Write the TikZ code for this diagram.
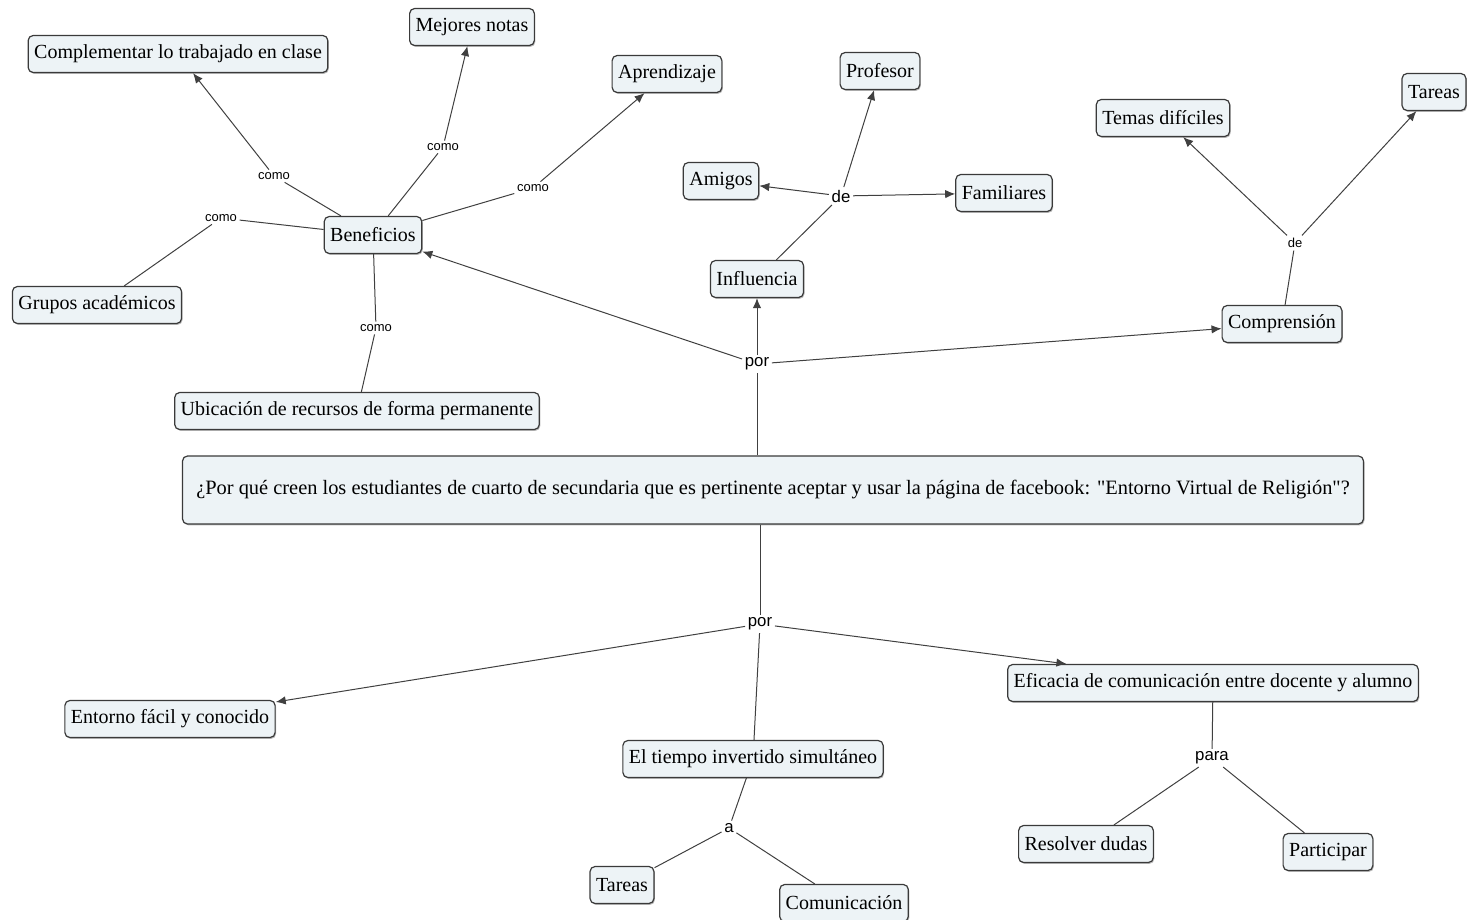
\documentclass[tikz,border=0pt]{standalone}
\usepackage{fontspec}
\setmainfont{Liberation Serif}
\setsansfont{Liberation Sans}
\newcommand{\sansall}{\sffamily}
\usepackage{xcolor}
\usepackage{tikz}
\usetikzlibrary{arrows.meta,shadows}
\definecolor{cfill}{HTML}{EDF3F6}
\definecolor{cline}{HTML}{3A3A3A}
\definecolor{wire}{HTML}{404040}
\tikzset{
  cpt/.style={draw=cline, line width=0.6pt, rounded corners=2.5pt, fill=cfill,
              minimum height=18.5pt, inner xsep=3pt, inner ysep=2pt,
              font=\fontsize{10}{12}\selectfont,
              drop shadow={shadow xshift=0.5pt, shadow yshift=-0.7pt,
                           fill=black!45, opacity=0.6}},
  lnk/.style={inner sep=1.2pt, font=\sansall\fontsize{6.5}{8}\selectfont},
  lnkb/.style={lnk, font=\sansall\fontsize{8.4}{10}\selectfont},
  ln/.style={line width=0.5pt, draw=wire},
  ar/.style={ln, -{Latex[length=5pt,width=4.2pt]}},
}

\begin{document}
\begin{tikzpicture}[x=0.5pt, y=-0.5pt]
  \useasboundingbox (0,0) rectangle (1467,920);
  % pregunta central
  \node[cpt, minimum width=590.5pt, minimum height=34pt,
        font=\fontsize{10.2}{12}\selectfont] (q) at (773,490)
       {¿Por qué creen los estudiantes de cuarto de secundaria que es pertinente aceptar y usar la página de facebook: \textquotedbl Entorno Virtual de Religión\textquotedbl ?};

  % conceptos de arriba
  \node[cpt] (ben)   at (373,235)  {Beneficios};
  \node[cpt] (inf)   at (757,279)  {Influencia};
  \node[cpt] (comp)  at (1282,324) {Comprensión};
  \node[cpt] (compl) at (178,54)   {Complementar lo trabajado en clase};
  \node[cpt] (mej)   at (472,27)   {Mejores notas};
  \node[cpt] (apr)   at (667,74)   {Aprendizaje};
  \node[cpt] (grp)   at (97,305)   {Grupos académicos};
  \node[cpt] (ubi)   at (357,411)  {Ubicación de recursos de forma permanente};
  \node[cpt] (prof)  at (880,71)   {Profesor};
  \node[cpt] (ami)   at (721,181)  {Amigos};
  \node[cpt] (fam)   at (1004,193) {Familiares};
  \node[cpt] (tem)   at (1163,118) {Temas difíciles};
  \node[cpt] (tar1)  at (1434,92)  {Tareas};

  % conceptos de abajo
  \node[cpt] (ent)  at (170,719)  {Entorno fácil y conocido};
  \node[cpt] (tie)  at (753,759)  {El tiempo invertido simultáneo};
  \node[cpt] (efi)  at (1213,683) {Eficacia de comunicación entre docente y alumno};
  \node[cpt] (res)  at (1086,844) {Resolver dudas};
  \node[cpt] (par)  at (1328,852) {Participar};
  \node[cpt] (tar2) at (622,885)  {Tareas};
  \node[cpt] (com)  at (844,903)  {Comunicación};

  % frases de enlace
  \node[lnkb] (por1)  at (757,364)  {por};
  \node[lnkb] (por2)  at (760,624)  {por};
  \node[lnk]  (como1) at (274,176)  {como};
  \node[lnk]  (como2) at (443,147)  {como};
  \node[lnk]  (como3) at (533,188)  {como};
  \node[lnk]  (como4) at (221,218)  {como};
  \node[lnk]  (como5) at (376,328)  {como};
  \node[lnkb] (de1)   at (841,196)  {de};
  \node[lnk]  (de2)   at (1295,243) {de};
  \node[lnkb] (a1)    at (729,828)  {a};
  \node[lnkb] (para1) at (1212,758) {para};

  \draw[ln] (q.north -| por1) -- (por1);
  \draw[ln] (q.south -| por2) -- (por2);
  \foreach \a/\b in {ben/como1, ben/como2, ben/como3, ben/como4, ben/como5,
                     como4/grp, como5/ubi, inf/de1, comp/de2, por2/tie,
                     tie/a1, a1/tar2, a1/com, efi/para1, para1/res, para1/par}
    \draw[ln] (\a) -- (\b);
  \foreach \a/\b in {por1/ben, por1/inf, por1/comp, como1/compl, como2/mej,
                     como3/apr, de1/ami, de1/prof, de1/fam, de2/tem, de2/tar1,
                     por2/ent, por2/efi}
    \draw[ar] (\a) -- (\b);
\end{tikzpicture}
\end{document}
